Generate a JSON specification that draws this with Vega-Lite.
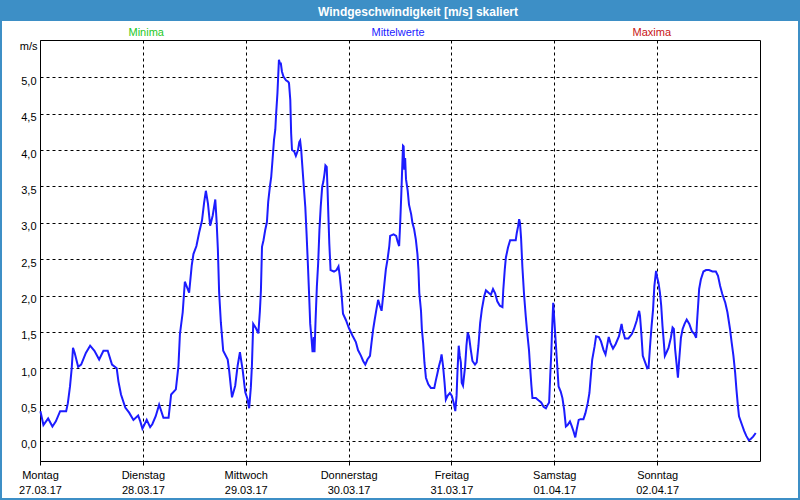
{
  "$schema": "https://vega.github.io/schema/vega-lite/v6.json",
  "width": 720,
  "height": 421,
  "autosize": "none",
  "padding": {"left": 40, "top": 40, "right": 40, "bottom": 39},
  "background": "white",
  "config": {"font": "Liberation Sans", "view": {"stroke": "black", "strokeWidth": 1}},
  "title": {"text": "Windgeschwindigkeit [m/s] skaliert", "color": "white", "fontSize": 12, "fontWeight": "bold", "anchor": "middle", "frame": "group", "dx": 18, "dy": 24, "zindex": 2},
  "layer": [
    {
      "data": {"values": [{}]},
      "mark": {"type": "rect", "fill": "#3d8fc6"},
      "encoding": {
        "x": {"datum": -9.4, "type": "quantitative"},
        "x2": {"datum": 177.4},
        "y": {"datum": 6.07, "type": "quantitative"},
        "y2": {"datum": 5.774}
      }
    },
    {
      "data": {"values": [{}]},
      "mark": {"type": "rect", "filled": false, "stroke": "#3d8fc6", "strokeWidth": 2},
      "encoding": {
        "x": {"datum": -9.1, "type": "quantitative"},
        "x2": {"datum": 177.1},
        "y": {"datum": 6.05, "type": "quantitative"},
        "y2": {"datum": -0.797}
      }
    },
    {
      "data": {"values": [
        {"h":0.1,"v":0.41},{"h":0.8,"v":0.22},{"h":1.9,"v":0.31},{"h":2.9,"v":0.2},{"h":3.7,"v":0.27},{"h":4.7,"v":0.41},{"h":6.1,"v":0.41},{"h":6.5,"v":0.52},{"h":7.0,"v":0.75},{"h":7.4,"v":1.0},{"h":7.7,"v":1.28},{"h":8.1,"v":1.21},{"h":8.9,"v":1.02},{"h":9.6,"v":1.05},{"h":10.7,"v":1.21},{"h":11.7,"v":1.31},{"h":12.7,"v":1.24},{"h":13.8,"v":1.12},{"h":14.8,"v":1.24},{"h":15.8,"v":1.24},{"h":16.8,"v":1.05},{"h":17.9,"v":1.0},{"h":18.3,"v":0.82},{"h":18.9,"v":0.64},{"h":19.9,"v":0.46},{"h":20.8,"v":0.39},{"h":21.8,"v":0.29},{"h":22.9,"v":0.35},{"h":23.4,"v":0.27},{"h":23.9,"v":0.17},{"h":24.9,"v":0.29},{"h":25.7,"v":0.19},{"h":26.2,"v":0.23},{"h":27.0,"v":0.34},{"h":27.8,"v":0.5},
        {"h":28.8,"v":0.32},{"h":30.0,"v":0.32},{"h":30.6,"v":0.64},{"h":31.7,"v":0.71},{"h":32.3,"v":1.03},{"h":32.65,"v":1.47},{"h":33.3,"v":1.77},{"h":33.8,"v":2.19},{"h":34.2,"v":2.13},{"h":34.8,"v":2.04},{"h":35.4,"v":2.41},{"h":35.8,"v":2.57},{"h":36.5,"v":2.68},{"h":37.15,"v":2.87},{"h":37.8,"v":3.03},{"h":38.3,"v":3.28},{"h":38.7,"v":3.44},{"h":39.2,"v":3.26},{"h":39.7,"v":2.96},{"h":40.3,"v":3.1},{"h":40.9,"v":3.32},{"h":41.2,"v":3.03},{"h":41.5,"v":2.64},{"h":41.8,"v":2.04},{"h":42.2,"v":1.63},{"h":42.75,"v":1.24},{"h":43.8,"v":1.12},{"h":44.15,"v":0.96},{"h":44.5,"v":0.76},{"h":44.8,"v":0.6},{"h":45.55,"v":0.76},{"h":46.1,"v":1.03},{"h":46.65,"v":1.22},
        {"h":47.3,"v":0.97},{"h":47.9,"v":0.67},{"h":48.4,"v":0.58},{"h":48.8,"v":0.45},{"h":49.2,"v":0.74},{"h":49.45,"v":1.04},{"h":49.75,"v":1.61},{"h":50.4,"v":1.55},{"h":50.95,"v":1.48},{"h":51.3,"v":1.78},{"h":51.55,"v":2.07},{"h":51.8,"v":2.67},{"h":52.15,"v":2.76},{"h":52.55,"v":2.9},{"h":52.95,"v":3.01},{"h":53.25,"v":3.29},{"h":53.65,"v":3.5},{"h":53.95,"v":3.63},{"h":54.25,"v":3.86},{"h":54.6,"v":4.14},{"h":54.9,"v":4.28},{"h":55.1,"v":4.5},{"h":55.4,"v":4.78},{"h":55.75,"v":5.24},{"h":56.0,"v":5.19},{"h":56.2,"v":5.19},{"h":56.45,"v":5.08},{"h":56.8,"v":5.01},{"h":57.4,"v":4.96},{"h":57.9,"v":4.94},{"h":58.1,"v":4.92},{"h":58.4,"v":4.69},{"h":58.6,"v":4.23},{"h":58.8,"v":4.0},{"h":59.3,"v":3.98},{"h":59.7,"v":3.92},{"h":60.2,"v":4.0},{"h":60.5,"v":4.11},{"h":60.7,"v":4.13},{"h":60.95,"v":4.0},{"h":61.2,"v":3.79},{"h":61.5,"v":3.54},{"h":61.9,"v":3.22},{"h":62.2,"v":2.85},{"h":62.5,"v":2.44},{"h":62.8,"v":2.0},{"h":63.05,"v":1.61},{"h":63.35,"v":1.41},{"h":63.6,"v":1.22},{"h":63.9,"v":1.43},{"h":64.05,"v":1.22},{"h":64.3,"v":1.66},{"h":64.6,"v":2.12},{"h":64.9,"v":2.44},{"h":65.2,"v":2.9},{"h":65.5,"v":3.22},{"h":65.85,"v":3.5},{"h":66.1,"v":3.56},{"h":66.4,"v":3.68},{"h":66.6,"v":3.79},{"h":66.9,"v":3.77},{"h":67.1,"v":3.45},{"h":67.3,"v":3.08},{"h":67.5,"v":2.72},{"h":67.8,"v":2.35},{"h":68.6,"v":2.33},{"h":69.2,"v":2.35},{"h":69.65,"v":2.4},{"h":69.97,"v":2.26},{"h":70.35,"v":2.03},{"h":70.7,"v":1.75},{"h":71.4,"v":1.66},{"h":72.1,"v":1.55},{"h":72.9,"v":1.45},{"h":73.7,"v":1.36},{"h":74.2,"v":1.25},
        {"h":74.9,"v":1.17},{"h":75.4,"v":1.1},{"h":75.9,"v":1.05},{"h":76.4,"v":1.12},{"h":77.0,"v":1.17},{"h":77.35,"v":1.35},{"h":77.75,"v":1.54},{"h":78.1,"v":1.67},{"h":78.5,"v":1.81},{"h":78.9,"v":1.94},{"h":79.3,"v":1.86},{"h":79.7,"v":1.79},{"h":79.9,"v":1.9},{"h":80.3,"v":2.13},{"h":80.7,"v":2.36},{"h":81.1,"v":2.5},{"h":81.5,"v":2.68},{"h":81.7,"v":2.82},{"h":82.5,"v":2.84},{"h":83.1,"v":2.82},{"h":83.4,"v":2.75},{"h":83.8,"v":2.68},{"h":84.05,"v":3.0},{"h":84.3,"v":3.39},{"h":84.5,"v":3.73},{"h":84.7,"v":4.06},{"h":84.85,"v":4.05},{"h":85.0,"v":3.73},{"h":85.2,"v":3.89},{"h":85.4,"v":3.6},{"h":85.8,"v":3.44},{"h":86.1,"v":3.25},{"h":86.6,"v":3.12},{"h":86.9,"v":3.0},{"h":87.3,"v":2.91},{"h":87.7,"v":2.77},{"h":88.07,"v":2.57},{"h":88.3,"v":2.36},{"h":88.5,"v":2.04},{"h":88.9,"v":1.79},{"h":89.1,"v":1.54},{"h":89.4,"v":1.35},{"h":89.7,"v":1.08},{"h":90.05,"v":0.87},{"h":90.6,"v":0.78},{"h":91.2,"v":0.73},{"h":92.0,"v":0.73},{"h":92.35,"v":0.83},{"h":92.7,"v":0.92},{"h":93.1,"v":1.03},{"h":93.5,"v":1.12},{"h":93.7,"v":1.19},{"h":94.05,"v":1.03},{"h":94.4,"v":0.8},{"h":94.7,"v":0.57},{"h":95.1,"v":0.62},{"h":95.65,"v":0.66},{"h":96.1,"v":0.62},{"h":96.5,"v":0.53},{"h":96.9,"v":0.41},{"h":97.2,"v":0.62},{"h":97.4,"v":0.94},{"h":97.7,"v":1.31},{"h":97.95,"v":1.17},{"h":98.2,"v":1.08},{"h":98.4,"v":0.8},{"h":98.7,"v":0.76},{"h":99.2,"v":1.03},{"h":99.5,"v":1.31},{"h":99.8,"v":1.49},{"h":100.1,"v":1.44},{"h":100.5,"v":1.26},{"h":100.9,"v":1.1},{"h":101.5,"v":1.05},{"h":101.9,"v":1.08},{"h":102.3,"v":1.31},
        {"h":102.7,"v":1.62},{"h":103.1,"v":1.81},{"h":103.65,"v":1.99},{"h":104.05,"v":2.07},{"h":104.8,"v":2.03},{"h":105.2,"v":2.01},{"h":105.7,"v":2.09},{"h":106.2,"v":2.03},{"h":106.7,"v":1.92},{"h":107.3,"v":1.86},{"h":107.9,"v":1.84},{"h":108.1,"v":2.08},{"h":108.45,"v":2.36},{"h":108.7,"v":2.52},{"h":109.2,"v":2.66},{"h":109.7,"v":2.76},{"h":110.6,"v":2.76},{"h":111.0,"v":2.76},{"h":111.25,"v":2.86},{"h":111.55,"v":2.95},{"h":111.8,"v":3.05},{"h":112.0,"v":3.0},{"h":112.25,"v":2.79},{"h":112.55,"v":2.4},{"h":112.95,"v":2.01},{"h":113.35,"v":1.71},{"h":113.7,"v":1.48},{"h":114.1,"v":1.25},{"h":114.35,"v":1.02},{"h":114.65,"v":0.77},{"h":114.9,"v":0.59},{"h":115.7,"v":0.59},{"h":116.3,"v":0.56},{"h":116.95,"v":0.53},{"h":117.5,"v":0.47},{"h":118.05,"v":0.45},{"h":118.4,"v":0.49},{"h":118.8,"v":0.53},{"h":119.05,"v":0.89},{"h":119.3,"v":1.21},{"h":119.5,"v":1.55},{"h":119.75,"v":1.9},{"h":120.0,"v":1.67},{"h":120.2,"v":1.48},{"h":120.5,"v":1.21},{"h":120.75,"v":0.98},{"h":121.0,"v":0.75},{"h":121.5,"v":0.68},{"h":121.9,"v":0.59},{"h":122.3,"v":0.43},{"h":122.7,"v":0.2},{"h":123.1,"v":0.22},{"h":123.65,"v":0.27},{"h":124.1,"v":0.2},{"h":124.5,"v":0.13},{"h":124.9,"v":0.05},{"h":125.2,"v":0.15},{"h":125.7,"v":0.29},{"h":126.1,"v":0.3},{"h":126.8,"v":0.3},{"h":127.25,"v":0.38},{"h":127.8,"v":0.52},{"h":128.2,"v":0.66},{"h":128.45,"v":0.84},{"h":128.85,"v":1.12},{"h":129.4,"v":1.3},{"h":129.75,"v":1.44},{"h":130.4,"v":1.43},{"h":130.9,"v":1.37},{"h":131.5,"v":1.25},{"h":131.95,"v":1.19},{"h":132.3,"v":1.3},{"h":132.7,"v":1.43},
        {"h":133.1,"v":1.35},{"h":133.7,"v":1.27},{"h":134.3,"v":1.33},{"h":135.1,"v":1.44},{"h":135.7,"v":1.61},{"h":135.9,"v":1.54},{"h":136.5,"v":1.41},{"h":137.3,"v":1.41},{"h":138.1,"v":1.47},{"h":138.6,"v":1.54},{"h":139.2,"v":1.65},{"h":139.8,"v":1.79},{"h":140.0,"v":1.72},{"h":140.3,"v":1.49},{"h":140.65,"v":1.17},{"h":141.2,"v":1.08},{"h":141.7,"v":1.0},{"h":142.0,"v":1.01},{"h":142.35,"v":1.31},{"h":142.7,"v":1.58},{"h":143.05,"v":1.81},{"h":143.35,"v":2.13},{"h":143.75,"v":2.34},{"h":144.0,"v":2.25},{"h":144.3,"v":2.18},{"h":144.65,"v":2.04},{"h":144.95,"v":1.86},{"h":145.25,"v":1.58},{"h":145.5,"v":1.4},{"h":145.8,"v":1.17},{"h":146.2,"v":1.22},{"h":146.65,"v":1.28},{"h":147.2,"v":1.42},{"h":147.6,"v":1.56},{"h":147.9,"v":1.54},{"h":148.2,"v":1.26},{"h":148.5,"v":1.08},{"h":148.85,"v":0.87},{"h":149.15,"v":1.12},{"h":149.55,"v":1.42},{"h":149.95,"v":1.54},{"h":150.4,"v":1.61},{"h":150.9,"v":1.67},{"h":151.5,"v":1.61},{"h":152.1,"v":1.51},{"h":152.7,"v":1.47},{"h":153.1,"v":1.42},{"h":153.3,"v":1.63},{"h":153.6,"v":1.9},{"h":153.8,"v":2.09},{"h":154.2,"v":2.22},{"h":154.8,"v":2.33},{"h":155.4,"v":2.35},{"h":156.1,"v":2.35},{"h":156.9,"v":2.33},{"h":157.7,"v":2.33},{"h":158.2,"v":2.27},{"h":158.7,"v":2.13},{"h":159.2,"v":2.02},{"h":159.9,"v":1.9},{"h":160.4,"v":1.77},{"h":161.0,"v":1.54},{"h":161.4,"v":1.35},{"h":161.8,"v":1.17},{"h":162.2,"v":0.94},{"h":162.5,"v":0.71},{"h":162.85,"v":0.48},{"h":163.1,"v":0.34},{"h":163.75,"v":0.23},{"h":164.3,"v":0.14},{"h":164.8,"v":0.07},{"h":165.4,"v":0.01},{"h":165.9,"v":0.03},{"h":166.4,"v":0.06},{"h":167.0,"v":0.11}
      ]},
      "mark": {"type": "line", "strokeWidth": 2, "interpolate": "linear"},
      "encoding": {
        "x": {"field": "h", "type": "quantitative",
          "scale": {"domain": [0, 168], "nice": false, "zero": false},
          "axis": {"values": [0, 24, 48, 72, 96, 120, 144], "title": null, "grid": true, "gridColor": "black", "gridDash": [3, 3], "gridOpacity": 1, "domain": false, "ticks": true, "tickSize": 4, "tickColor": "black",
            "labelExpr": "[['Montag','27.03.17'],['Dienstag','28.03.17'],['Mittwoch','29.03.17'],['Donnerstag','30.03.17'],['Freitag','31.03.17'],['Samstag','01.04.17'],['Sonntag','02.04.17']][round(datum.value/24)]",
            "labelFlush": false, "labelOverlap": false, "labelColor": "black", "labelFontSize": 11, "labelLineHeight": 15, "labelPadding": 4, "labelBaseline": "top"}},
        "y": {"field": "v", "type": "quantitative",
          "scale": {"domain": [-0.275, 5.513], "nice": false, "zero": false},
          "axis": {"values": [0, 0.5, 1, 1.5, 2, 2.5, 3, 3.5, 4, 4.5, 5], "title": "m/s", "titleAngle": 0, "titleAlign": "right", "titleBaseline": "middle", "titleX": -3, "titleY": 6, "titleFontWeight": "normal", "titleFontSize": 11, "titleColor": "black",
            "grid": true, "gridColor": "black", "gridDash": [3, 3], "gridOpacity": 1, "domain": false, "ticks": false, "labelPadding": 4, "labelOffset": 4,
            "labelExpr": "replace(format(datum.value, '.1f'), '.', ',')", "labelColor": "black", "labelFontSize": 11}},
        "color": {"datum": "Mittelwerte", "type": "nominal",
          "scale": {"domain": ["Minima", "Mittelwerte", "Maxima"], "range": ["#1ec81e", "#1c1cff", "#c81414"]},
          "legend": {"orient": "none", "legendX": 77.5, "legendY": -13, "direction": "horizontal", "columns": 3, "title": null, "symbolSize": 0, "symbolStrokeWidth": 0, "symbolOpacity": 0, "labelOffset": 0, "columnPadding": 196, "gridAlign": "none", "labelFontSize": 11, "zindex": 1,
            "encode": {"labels": {"update": {"fill": {"scale": "color", "field": "value"}}}}}}
      }
    }
  ]
}
